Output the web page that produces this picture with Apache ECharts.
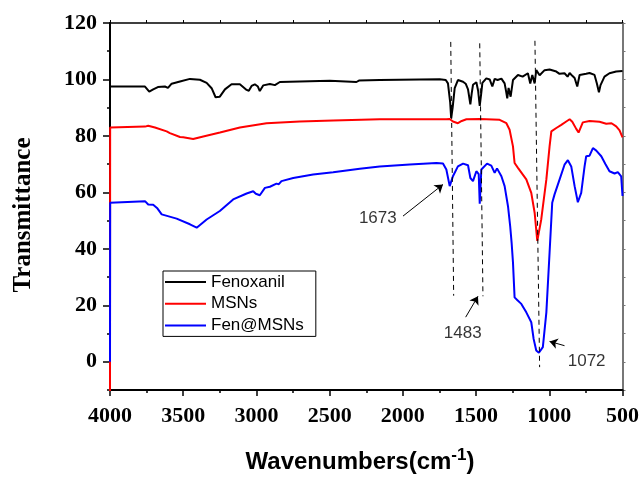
<!DOCTYPE html>
<html><head><meta charset="utf-8">
<script src="https://cdn.jsdelivr.net/npm/echarts@6/dist/echarts.min.js"></script>
<style>html,body{margin:0;padding:0;background:#fff}#c{width:642px;height:477px}</style>
</head><body><div id="c"></div>
<script>
// ---------- data ----------
const seriesNames = ['Fenoxanil', 'MSNs', 'Fen@MSNs'];

const fenWn = [4000,3761,3748,3732,3720,3705,3673,3625,3604,3579,3522,3454,3386,3340,3306,3279,3250,3215,3170,3113,3067,3052,3033,3011,2990,2977,2954,2908,2874,2840,2704,2499,2317,2300,2158,1885,1748,1707,1692,1677,1670,1660,1646,1624,1589,1571,1555,1539,1530,1521,1498,1486,1475,1465,1457,1430,1407,1389,1373,1353,1327,1305,1294,1287,1278,1271,1264,1248,1214,1182,1146,1130,1116,1100,1089,1066,1032,998,952,930,896,875,861,841,827,809,793,748,725,691,675,661,650,623,589,543,500];
const fenT  = [97.5,97.5,97.3,95.7,96.4,96.5,97.3,97.5,97.0,98.5,99.3,100.2,99.9,98.8,96.9,93.7,93.9,96.5,98.3,98.3,96.3,96.0,97.7,98.3,97.5,95.9,97.9,98.4,98.0,99.1,99.3,99.5,99.1,99.6,99.8,100.0,100.1,99.8,98.6,92.0,86.3,90.0,96.9,99.8,99.2,98.5,96.5,91.2,95.0,98.1,99.0,96.0,90.6,95.0,98.8,100.4,100.0,97.5,100.2,99.8,100.3,98.6,95.5,93.3,97.0,96.5,93.9,99.8,101.6,101.0,102.2,98.6,101.6,98.6,103.3,101.5,103.3,103.5,102.8,102.0,102.2,101.0,102.3,101.2,100.5,97.5,101.6,102.0,102.3,101.6,98.6,95.5,98.0,101.0,102.2,102.8,103.0];

const msnWn = [4000,3999,3761,3739,3727,3693,3613,3591,3522,3500,3432,3363,3249,3113,2931,2704,2476,2158,1703,1680,1658,1624,1598,1566,1475,1339,1293,1271,1248,1237,1214,1157,1123,1100,1082,1055,1020,998,986,952,918,884,861,843,816,800,771,725,657,611,575,543,520,500];
const msnT  = [-12,83.0,83.3,83.6,83.6,83.0,81.6,81.0,79.6,79.5,78.9,79.8,81.2,83.0,84.5,85.1,85.5,85.9,85.9,86.0,85.1,84.5,85.3,85.9,86.0,85.7,84.5,82.2,76.3,70.4,68.7,64.6,59.8,52.8,42.8,50.4,64.6,76.3,81.6,82.8,83.9,85.1,85.9,85.0,82.5,81.2,84.8,85.3,85.0,84.3,84.5,83.4,82.0,79.5];

const fenMsnWn = [4000,3999,3761,3739,3705,3679,3647,3545,3454,3408,3340,3250,3159,3067,3022,3004,2977,2942,2908,2863,2847,2829,2749,2613,2476,2294,2158,1953,1771,1726,1703,1680,1658,1624,1589,1555,1539,1521,1498,1482,1475,1464,1425,1396,1373,1357,1327,1305,1282,1267,1257,1248,1237,1221,1191,1157,1123,1107,1089,1071,1044,1020,998,980,964,930,896,873,850,827,805,782,759,748,725,702,679,645,616,589,554,532,509,500];
const fenMsnT  = [0,56.3,56.9,55.7,55.6,54.5,52.2,50.7,48.7,47.5,50.4,53.4,57.5,59.6,60.4,59.5,59.0,61.6,62.0,63.1,62.9,64.0,65.1,66.3,67.1,68.4,69.2,69.9,70.4,70.2,68.1,62.2,65.7,69.2,70.2,69.6,65.1,64.0,67.5,66.5,56.0,68.1,70.2,69.5,66.9,68.5,65.7,62.2,55.1,48.0,42.0,35.2,22.8,22.0,20.5,17.5,14.0,8.1,4.0,3.2,5.2,17.5,38.7,56.3,59.3,64.5,69.8,71.4,69.2,62.2,56.5,59.8,69.2,72.8,73.0,75.7,74.8,72.8,70.0,67.5,66.7,67.2,65.7,58.7];

const xTicks = [4000, 3500, 3000, 2500, 2000, 1500, 1000, 500];
const yTicks = [0, 20, 40, 60, 80, 100, 120];

// peak annotations
const peakLabels = ['1673', '1483', '1072'];
const peakLabelWn = [2171, 1591, 745];
const peakLabelT  = [50.8, 10.2, 0.0];
const dashTopWn = [1673, 1475, 1098];
const dashTopT  = [113.3, 112.8, 113.7];
const dashBotWn = [1653, 1453, 1066];
const dashBotT  = [23.4, 23.2, -1.9];
const arrowFromWn = [1999, 1571, 896];
const arrowFromT  = [51.6, 15.8, 5.7];
const arrowToWn   = [1726, 1487, 998];
const arrowToT    = [62.8, 23.2, 7.2];

// ---------- build ----------
const zip = (a, b) => a.map((v, i) => [v, b[i]]);
const serif = '"Liberation Serif", "Times New Roman", serif';
const sans = '"Liberation Sans", Arial, sans-serif';
const colors = ['#000000', '#ff0000', '#0000ff'];
const curves = [zip(fenWn, fenT), zip(msnWn, msnT), zip(fenMsnWn, fenMsnT)];

const chart = echarts.init(document.getElementById('c'), null, {renderer: 'canvas'});

const lineSeries = [2, 1, 0].map(i => ({
  name: seriesNames[i], type: 'line', data: curves[i], symbol: 'none',
  xAxisIndex: 0, yAxisIndex: 0, animation: false, clip: true,
  lineStyle: {color: colors[i], width: 2}, itemStyle: {color: colors[i]}, z: 3 + i
}));

const option = {
  animation: false,
  grid: {left: 110, right: 19, top: 23, bottom: 87, containLabel: false},
  legend: {
    data: seriesNames, orient: 'vertical', left: 163, top: 271,
    icon: 'rect', itemWidth: 41, itemHeight: 2, itemGap: 3.7,
    borderColor: '#000', borderWidth: 1, padding: [2, 12, 2, 2],
    textStyle: {fontFamily: sans, fontSize: 17, color: '#000', lineHeight: 18}
  },
  xAxis: [{
    type: 'value', min: 500, max: 4000, interval: 500, inverse: true, position: 'bottom',
    axisLine: {onZero: false, lineStyle: {color: '#000', width: 2}},
    axisTick: {length: 6, lineStyle: {color: '#000', width: 1.5}},
    minorTick: {show: true, splitNumber: 2, length: 3, lineStyle: {color: '#000', width: 1.5}},
    axisLabel: {fontFamily: serif, fontWeight: 'bold', fontSize: 22, color: '#000', margin: 15,
      formatter: v => xTicks.includes(v) ? String(v) : ''},
    splitLine: {show: false}
  }, {
    type: 'value', min: 500, max: 4000, interval: 250, inverse: true, position: 'top',
    axisLine: {onZero: false, lineStyle: {color: '#000', width: 1.5}},
    axisTick: {length: 3, lineStyle: {color: '#000', width: 1}},
    axisLabel: {show: false}, splitLine: {show: false}
  }],
  yAxis: [{
    type: 'value', min: -10, max: 120, interval: 10, position: 'left',
    axisLine: {onZero: false, lineStyle: {color: '#000', width: 2}},
    axisTick: {length: 3, lineStyle: {color: '#000', width: 1.5}},
    axisLabel: {fontFamily: serif, fontWeight: 'bold', fontSize: 22, color: '#000', margin: 13,
      formatter: v => yTicks.includes(v) ? String(v) : ''},
    splitLine: {show: false}
  }, {
    type: 'value', min: -10, max: 120, interval: 10, position: 'left',
    axisLine: {show: false},
    axisTick: {length: 7, customValues: yTicks, lineStyle: {color: '#000', width: 1.5}},
    axisLabel: {show: false}, splitLine: {show: false}
  }, {
    type: 'value', min: -10, max: 120, interval: 10, position: 'right',
    axisLine: {onZero: false, lineStyle: {color: '#777', width: 2}},
    axisTick: {length: 3, lineStyle: {color: '#777', width: 1}},
    axisLabel: {show: false}, splitLine: {show: false}
  }],
  series: [
    ...lineSeries,
    {
      type: 'lines', coordinateSystem: 'cartesian2d', xAxisIndex: 0, yAxisIndex: 0, silent: true,
      lineStyle: {color: '#000', width: 1, type: [5, 4], opacity: 1}, symbol: 'none', z: 10,
      data: dashTopWn.map((w, i) => ({coords: [[w, dashTopT[i]], [dashBotWn[i], dashBotT[i]]]}))
    },
    {
      type: 'lines', coordinateSystem: 'cartesian2d', xAxisIndex: 0, yAxisIndex: 0, silent: true,
      lineStyle: {color: '#000', width: 1, opacity: 1}, symbol: ['none', 'arrow'], symbolSize: 8, z: 10,
      data: arrowFromWn.map((w, i) => ({coords: [[w, arrowFromT[i]], [arrowToWn[i], arrowToT[i]]]}))
    },
    {
      type: 'scatter', xAxisIndex: 0, yAxisIndex: 0, silent: true, symbolSize: 1,
      itemStyle: {color: 'rgba(0,0,0,0)'}, z: 10,
      label: {show: true, position: 'inside', formatter: '{b}', fontFamily: sans, fontSize: 17, color: '#000'},
      data: peakLabels.map((t, i) => ({name: t, value: [peakLabelWn[i], peakLabelT[i]]}))
    }
  ],
  graphic: [
    {type: 'text', x: 24, y: 215, rotation: Math.PI / 2, z: 100,
      style: {text: 'Transmittance', font: 'bold 25px ' + serif, fill: '#000', align: 'center', verticalAlign: 'middle'}},
    {type: 'text', x: 360, y: 462, z: 100,
      style: {text: '{a|Wavenumbers(cm}{b|-1}{a|)}', align: 'center', verticalAlign: 'middle',
        rich: {
          a: {fontFamily: sans, fontWeight: 'bold', fontSize: 24, fill: '#000', lineHeight: 30},
          b: {fontFamily: sans, fontWeight: 'bold', fontSize: 17, fill: '#000', verticalAlign: 'top', lineHeight: 30}
        }}}
  ]
};
chart.setOption(option);
</script>
</body></html>
